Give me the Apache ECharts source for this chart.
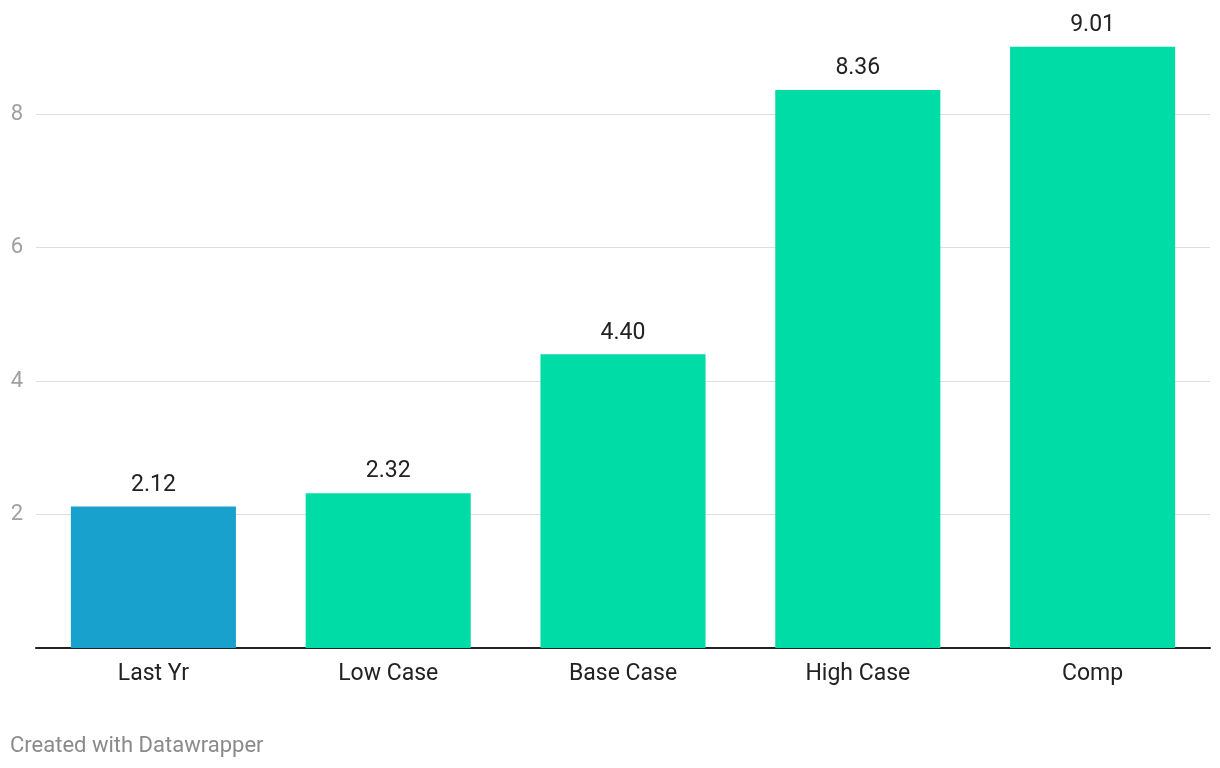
<!DOCTYPE html>
<html>
<head>
<meta charset="utf-8">
<script src="https://cdn.jsdelivr.net/npm/echarts@6/dist/echarts.min.js"></script>
<style>
html,body{margin:0;padding:0;background:#fff;}
#c{width:1220px;height:768px;}
</style>
</head>
<body>
<div id="c"></div>
<script>
const categories = ["Last Yr", "Low Case", "Base Case", "High Case", "Comp"];
const values = [2.12, 2.32, 4.40, 8.36, 9.01];
const barColors = ["#18a1cd", "#00dca6", "#00dca6", "#00dca6", "#00dca6"];

const chart = echarts.init(document.getElementById('c'));
chart.setOption({
  animation: false,
  textStyle: { fontFamily: 'Roboto' },
  grid: { left: 36, right: 10, top: 14, bottom: 120 },
  graphic: [{
    type: 'text', left: 10, top: 735,
    style: { text: 'Created with Datawrapper', fill: '#8a8a8a', font: '22px Roboto' }
  }],
  xAxis: {
    type: 'category',
    data: categories,
    axisLine: { lineStyle: { color: '#222', width: 2 } },
    axisTick: { show: false },
    axisLabel: { color: '#222', fontSize: 23, margin: 15, fontFamily: 'Roboto' }
  },
  yAxis: {
    type: 'value',
    min: 0, max: 9.5, interval: 2,
    axisLine: { show: false },
    axisTick: { show: false },
    splitLine: { showMaxLine: false, lineStyle: { color: '#dedede', width: 1 } },
    axisLabel: {
      color: '#a0a0a0', fontSize: 22, margin: 13, fontFamily: 'Roboto',
      showMaxLabel: false,
      formatter: v => (v === 0 || v % 2 !== 0 ? '' : String(v))
    }
  },
  series: [{
    type: 'bar',
    data: values.map((v, i) => ({ value: v, itemStyle: { color: barColors[i] } })),
    barWidth: '70.3%',
    label: {
      show: true, position: 'top', distance: 10,
      color: '#222', fontSize: 23, fontFamily: 'Roboto',
      formatter: p => p.value.toFixed(2)
    }
  }]
});
</script>
</body>
</html>
